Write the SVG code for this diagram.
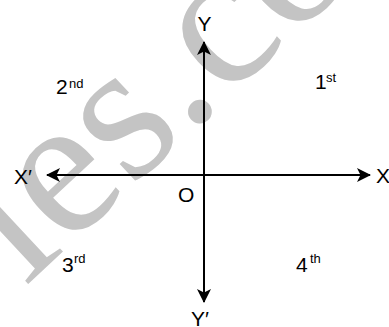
<svg xmlns="http://www.w3.org/2000/svg" width="389" height="327" viewBox="0 0 389 327">
<style>
.lbl{font-family:"Liberation Sans",Arial,sans-serif;font-size:21px;fill:#000}
.sup{font-family:"Liberation Sans",Arial,sans-serif;font-size:13px;fill:#000}
.wm{font-family:"Liberation Serif","Times New Roman",serif;font-size:200px;fill:#c4c4c4}
.axis{stroke:#000;stroke-width:2;fill:none}
</style>
<defs>
<marker id="arr" markerUnits="userSpaceOnUse" viewBox="0 0 14 14" refX="13" refY="7" markerWidth="14" markerHeight="14" orient="auto-start-reverse">
<path d="M0,0 L14,7 L0,14 L3.5,7 Z" fill="#000"/>
</marker>
</defs>
<g id="watermark">
<text class="wm" transform="translate(25.3,286.7) rotate(-43)">les.co</text>
</g>
<g id="connectors">
<line class="axis" x1="204" y1="302" x2="204" y2="42" marker-start="url(#arr)" marker-end="url(#arr)"/>
<line class="axis" x1="47" y1="175" x2="370" y2="175" marker-start="url(#arr)" marker-end="url(#arr)"/>
</g>
<g id="label-Y"><text class="lbl" x="204.5" y="31" text-anchor="middle">Y</text></g>
<g id="label-Yp"><text class="lbl" x="191" y="326">Y′</text></g>
<g id="label-X"><text class="lbl" x="376" y="183">X</text></g>
<g id="label-Xp"><text class="lbl" x="14" y="184">X′</text></g>
<g id="label-O"><text class="lbl" x="178" y="202">O</text></g>
<g id="q1"><text class="lbl" x="315" y="89">1</text><text class="sup" x="326" y="82">st</text></g>
<g id="q2"><text class="lbl" x="56" y="94">2</text><text class="sup" x="69" y="88">nd</text></g>
<g id="q3"><text class="lbl" x="62" y="272">3</text><text class="sup" x="74" y="263">rd</text></g>
<g id="q4"><text class="lbl" x="296" y="272">4</text><text class="sup" x="310" y="263">th</text></g>
</svg>
